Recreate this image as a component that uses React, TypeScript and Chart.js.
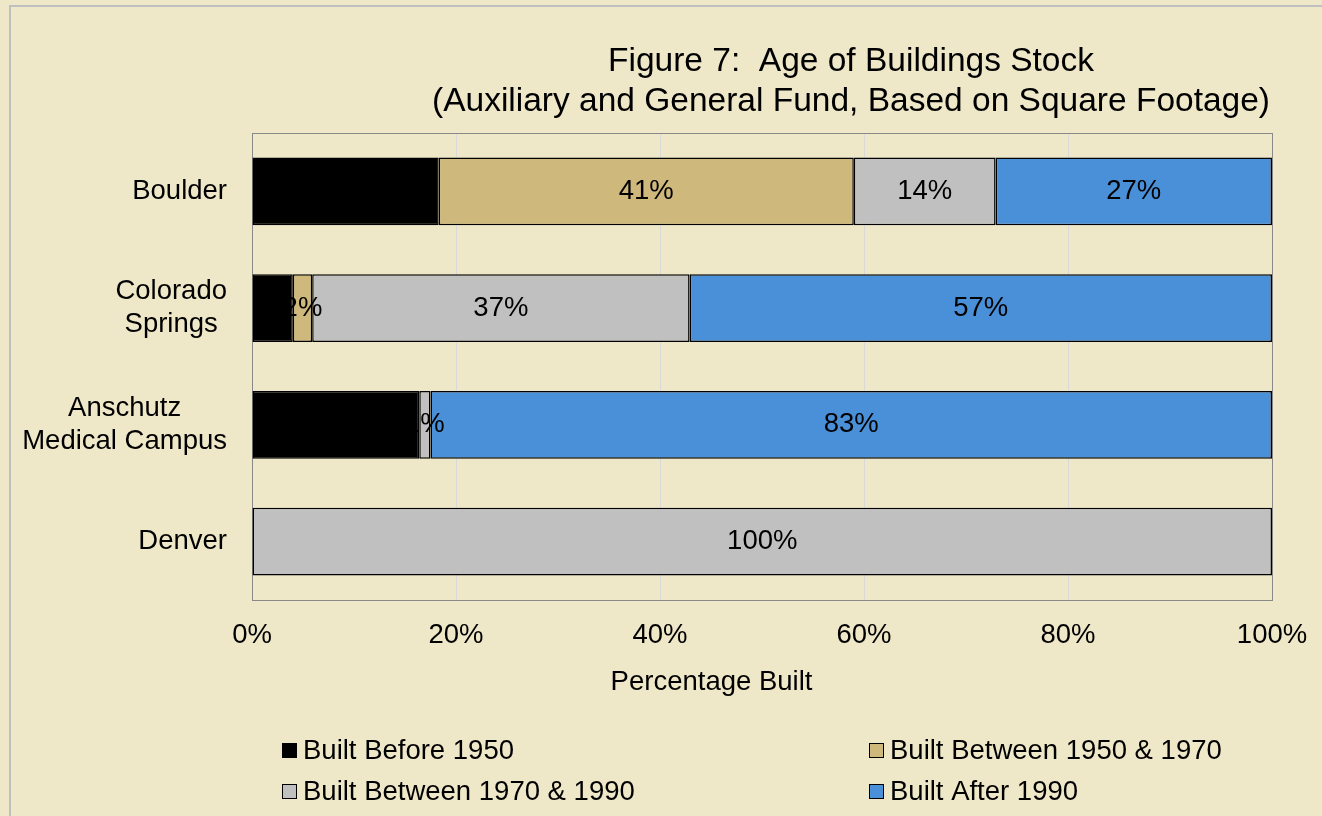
import React, { useEffect, useRef } from "react";
import { Chart, registerables } from "chart.js";

Chart.register(...registerables);

// ---------- data ----------
const categories: string[][] = [["Boulder"], ["Colorado", "Springs"], ["Anschutz", "Medical Campus"], ["Denver"]];
const seriesNames = ["Built Before 1950", "Built Between 1950 & 1970", "Built Between 1970 & 1990", "Built After 1990"];
const builtBefore1950 = [18.3, 4.0, 16.4, 0];
const built1950To1970 = [40.7, 1.9, 0, 0];
const built1970To1990 = [13.9, 37.0, 1.1, 100];
const builtAfter1990 = [27.1, 57.1, 82.5, 0];
const seriesColors = ["#000000", "#CFB87C", "#C0C0C0", "#4A90D9"];
const xTickValues = [0, 20, 40, 60, 80, 100];
const titleLines = ["Figure 7:  Age of Buildings Stock", "(Auxiliary and General Fund, Based on Square Footage)"];
const xAxisTitle = "Percentage Built";

const FONT = '"Liberation Sans", Arial, Helvetica, sans-serif';
const TEXT_SIZE = 27.5;
const TITLE_SIZE = 33.5;

const overlayPlugin = {
  id: "overlay",
  beforeDatasetsDraw(chart: any) {
    const { ctx, chartArea: a } = chart;
    ctx.save();
    ctx.strokeStyle = "#898989";
    ctx.lineWidth = 1;
    ctx.strokeRect(Math.round(a.left) + 0.5, Math.round(a.top) + 0.5, Math.round(a.right - a.left), Math.round(a.bottom - a.top));
    ctx.restore();
  },
  afterDatasetsDraw(chart: any) {
    const { ctx, chartArea: a } = chart;
    ctx.save();
    ctx.fillStyle = "#000";
    ctx.textBaseline = "middle";
    ctx.font = `${TEXT_SIZE}px ${FONT}`;

    // data labels
    ctx.textAlign = "center";
    chart.data.datasets.forEach((ds: any, i: number) => {
      const meta = chart.getDatasetMeta(i);
      meta.data.forEach((bar: any, j: number) => {
        const v = ds.data[j];
        if (!v) return;
        const p = bar.getProps(["x", "y", "base"], true);
        ctx.fillText(Math.round(v) + "%", (p.x + p.base) / 2, p.y);
      });
    });

    // category labels (block right aligned, lines centred in block)
    const yScale = chart.scales.y;
    const rightEdge = a.left - 25;
    const lh = TEXT_SIZE * 1.2;
    (chart.data.labels as any[]).forEach((lab: any, i: number) => {
      const lines: string[] = Array.isArray(lab) ? lab : [lab];
      const blockW = Math.max(...lines.map((l) => ctx.measureText(l).width));
      const cx = rightEdge - blockW / 2;
      const yc = yScale.getPixelForValue(i);
      lines.forEach((l, k) => {
        ctx.fillText(l, cx, yc + (k - (lines.length - 1) / 2) * lh);
      });
    });

    // axis title
    ctx.fillText(xAxisTitle, 711.5, 682);

    // chart title
    ctx.font = `${TITLE_SIZE}px ${FONT}`;
    titleLines.forEach((t, k) => ctx.fillText(t, 851, 62 + k * 39.6));

    // legend
    ctx.font = `${TEXT_SIZE}px ${FONT}`;
    ctx.textAlign = "left";
    const cols = [282, 869];
    const rows = [743, 784];
    chart.data.datasets.forEach((ds: any, i: number) => {
      const bx = cols[i % 2];
      const by = rows[Math.floor(i / 2)];
      ctx.fillStyle = ds.backgroundColor;
      ctx.fillRect(bx, by, 15, 15);
      ctx.strokeStyle = "#000";
      ctx.lineWidth = 1;
      ctx.strokeRect(bx + 0.5, by + 0.5, 14, 14);
      ctx.fillStyle = "#000";
      ctx.fillText(ds.label, bx + 21, by + 8);
    });
    ctx.restore();
  },
};

export default function App() {
  const canvasRef = useRef<HTMLCanvasElement | null>(null);

  useEffect(() => {
    if (!canvasRef.current) return;
    const seriesValues = [builtBefore1950, built1950To1970, built1970To1990, builtAfter1990];
    const chart = new Chart(canvasRef.current, {
      type: "bar",
      data: {
        labels: categories as any,
        datasets: seriesValues.map((vals, i) => ({
          label: seriesNames[i],
          data: vals,
          backgroundColor: seriesColors[i],
          borderColor: "#000000",
          borderWidth: 1.5,
          borderSkipped: false,
          categoryPercentage: 1,
          barPercentage: 0.58,
        })),
      },
      options: {
        indexAxis: "y",
        responsive: false,
        devicePixelRatio: 1,
        animation: false,
        layout: { padding: { top: 133, left: 252, right: 50, bottom: 145 } },
        plugins: {
          legend: { display: false },
          title: { display: false },
          tooltip: { enabled: false },
        },
        scales: {
          x: {
            stacked: true,
            min: 0,
            max: 100,
            afterBuildTicks: (s: any) => {
              s.ticks = xTickValues.map((v) => ({ value: v }));
            },
            afterFit: (s: any) => {
              s.paddingRight = 0;
              s.paddingLeft = 0;
            },
            ticks: {
              callback: (v: any) => v + "%",
              color: "#000",
              font: { size: TEXT_SIZE, family: FONT },
              padding: 19,
              maxRotation: 0,
              autoSkip: false,
            },
            grid: { color: "#D9D9D9", drawTicks: false, lineWidth: 1 },
            border: { display: false },
          },
          y: {
            stacked: true,
            display: false,
          },
        },
      },
      plugins: [overlayPlugin],
    } as any);
    return () => chart.destroy();
  }, []);

  return (
    <div
      style={{
        position: "fixed",
        left: 0,
        top: 0,
        width: 1322,
        height: 816,
        background: "#EEE7C8",
        overflow: "hidden",
      }}
    >
      <div
        style={{
          position: "absolute",
          left: 9,
          top: 5,
          width: 1400,
          height: 1000,
          border: "2px solid #C0C0C0",
        }}
      />
      <canvas ref={canvasRef} width={1322} height={816} style={{ position: "absolute", left: 0, top: 0 }} />
    </div>
  );
}
